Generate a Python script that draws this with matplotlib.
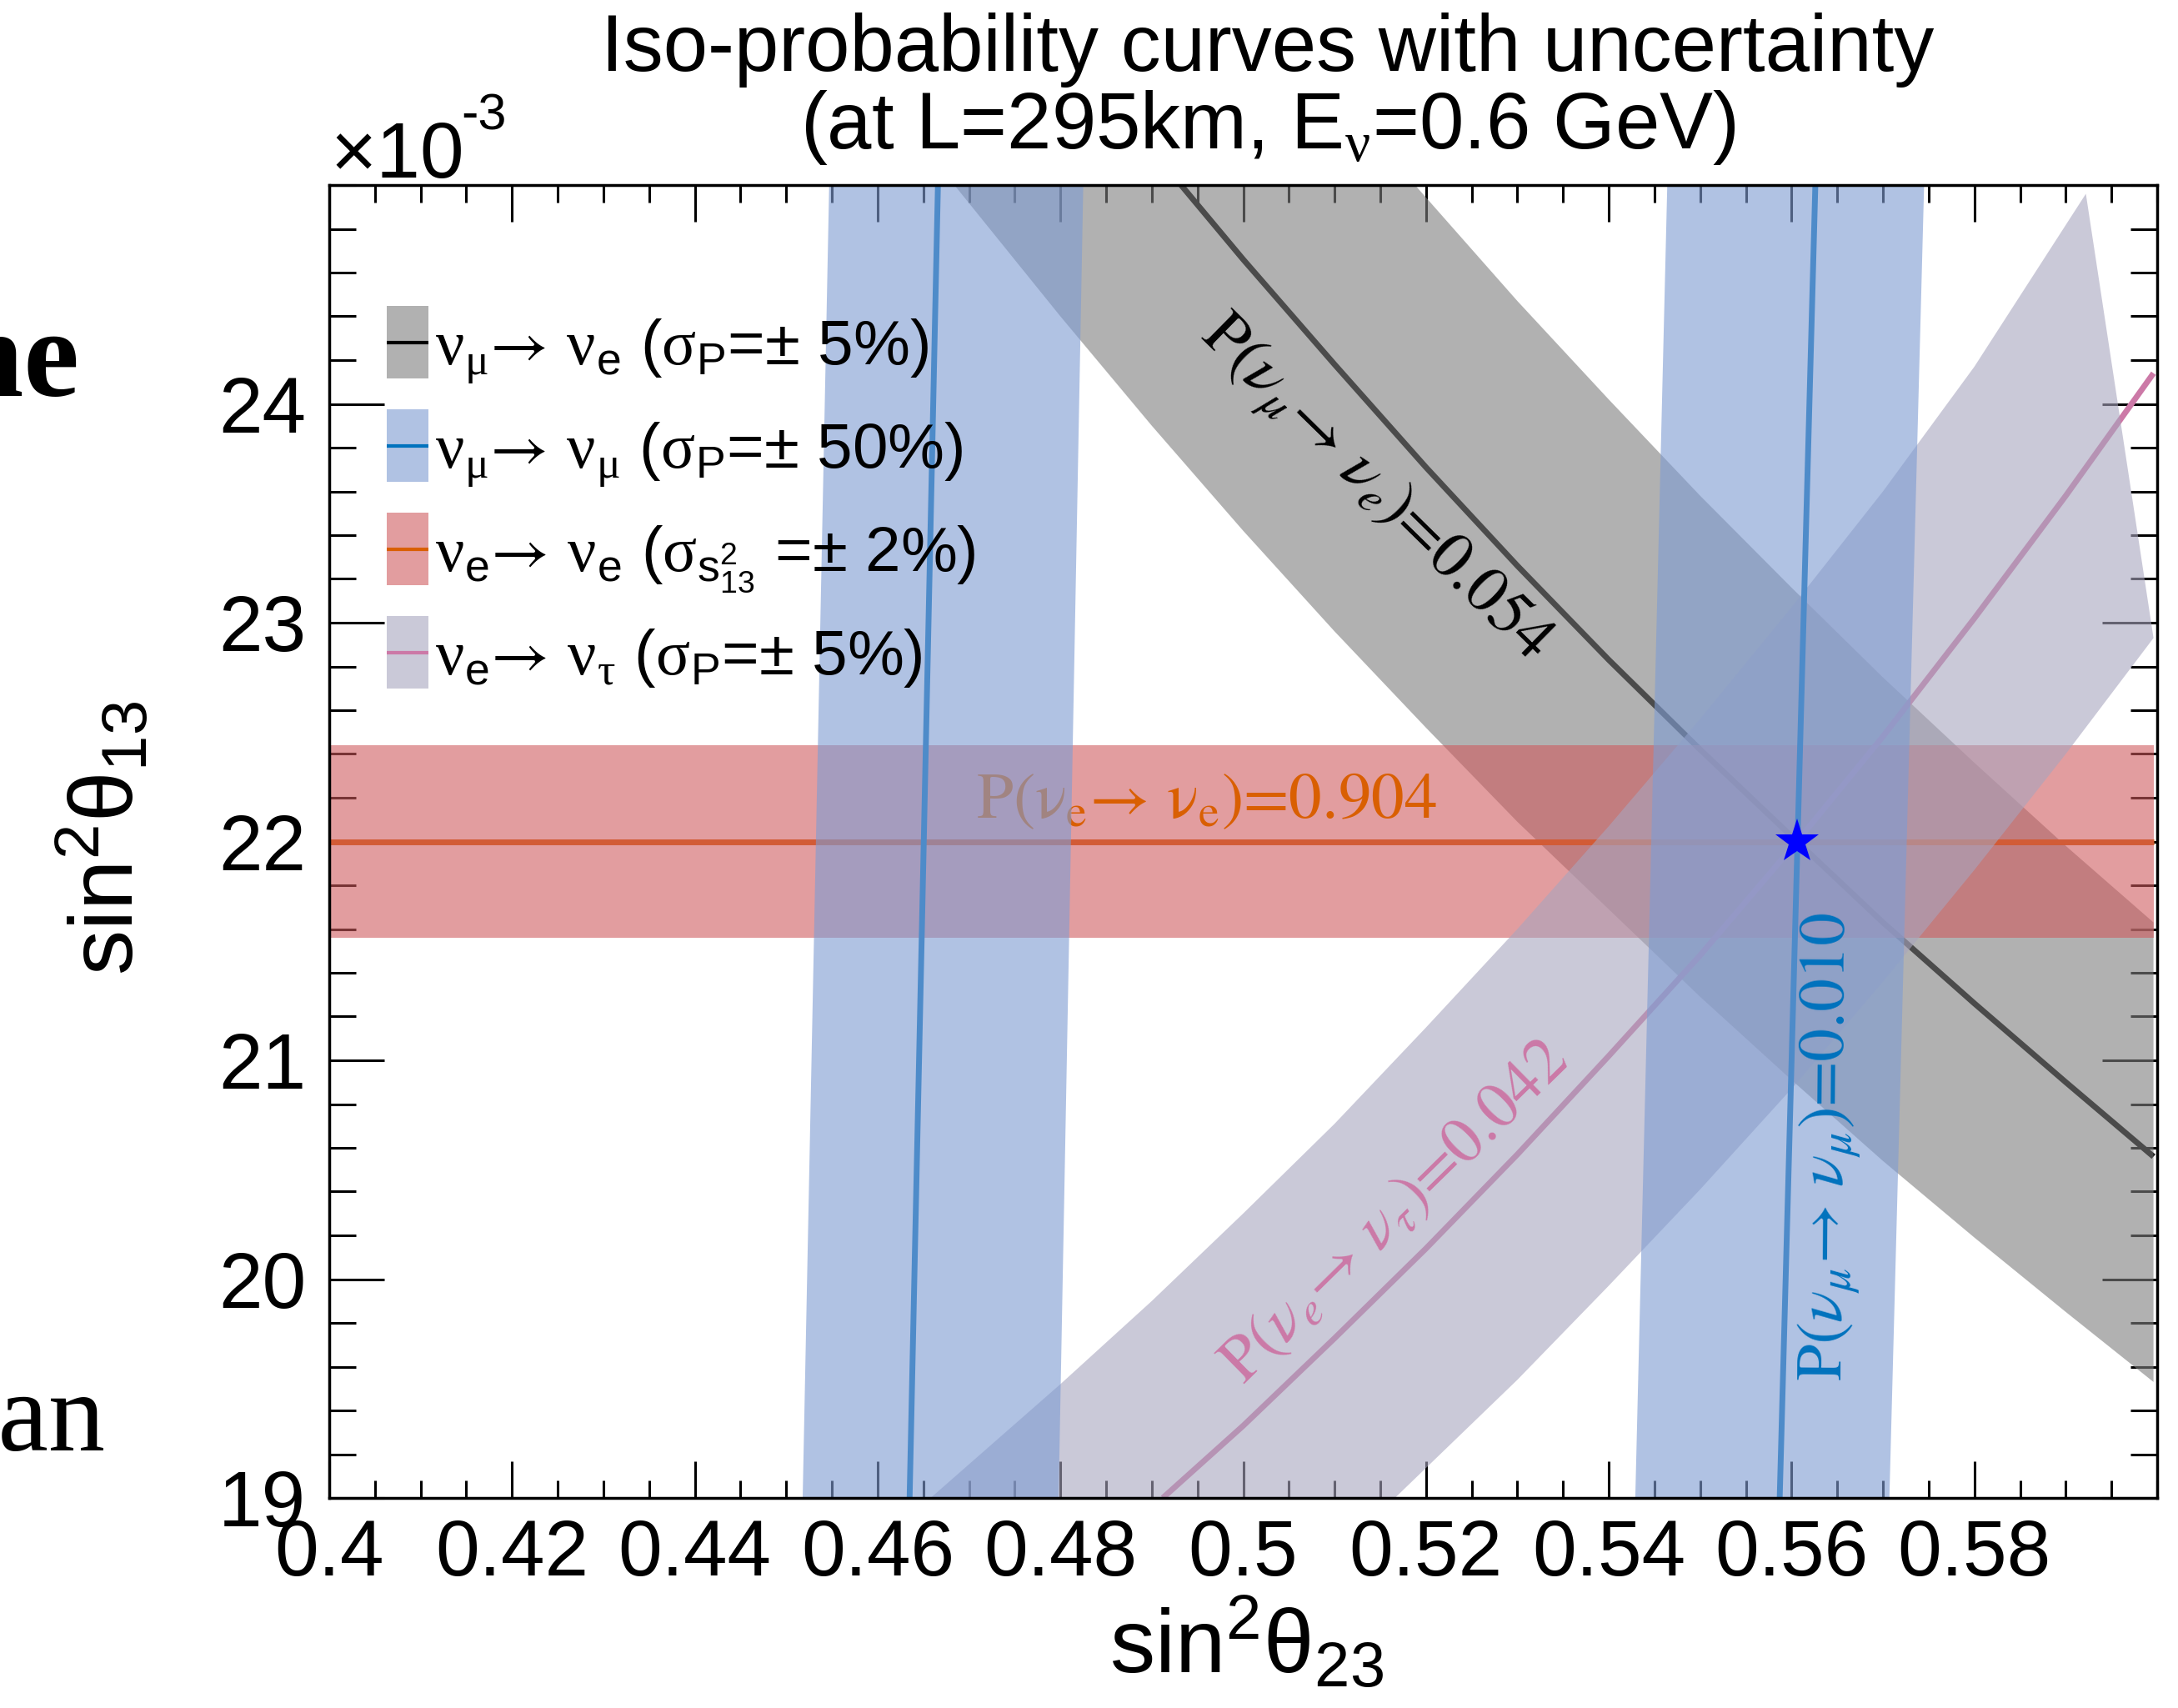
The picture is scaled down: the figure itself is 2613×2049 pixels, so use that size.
import matplotlib
matplotlib.use("Agg")
import matplotlib.pyplot as plt
from matplotlib.patches import Rectangle
from matplotlib.lines import Line2D
from matplotlib.ticker import FixedLocator, MultipleLocator

plt.rcParams.update({
    "font.family": ["Liberation Sans", "DejaVu Sans"],
    "mathtext.fontset": "custom",
    "mathtext.rm": "Liberation Sans",
    "mathtext.it": "Liberation Sans:italic",
    "mathtext.bf": "Liberation Sans:bold",
    "mathtext.sf": "Liberation Serif",
    "mathtext.tt": "STIXGeneral",
})

# ---------------------------------------------------------------------------
# Iso-probability curves in the (sin^2 theta23, sin^2 theta13 [x1e-3]) plane
# ---------------------------------------------------------------------------
# nu_mu -> nu_e : P = 0.054, band +-5 %
mue_x = [0.4932, 0.500, 0.510, 0.520, 0.530, 0.540, 0.550, 0.5606, 0.570, 0.580, 0.590, 0.5996]
mue_y = [25.00, 24.66, 24.18, 23.71, 23.26, 22.83, 22.42, 22.00, 21.63, 21.26, 20.90, 20.56]
mue_lo_x = [0.4684, 0.480, 0.490, 0.500, 0.510, 0.520, 0.530, 0.540, 0.550, 0.560, 0.570, 0.580, 0.590, 0.5996]
mue_lo_y = [25.00, 24.40, 23.90, 23.42, 22.96, 22.52, 22.09, 21.69, 21.29, 20.91, 20.54, 20.19, 19.85, 19.53]
mue_hi_x = [0.5188, 0.530, 0.540, 0.550, 0.560, 0.570, 0.580, 0.590, 0.5996]
mue_hi_y = [25.00, 24.47, 24.02, 23.58, 23.16, 22.75, 22.36, 21.98, 21.63]

# nu_mu -> nu_mu : P = 0.010, band +-50 % (two branches)
mumu1_x, mumu1_y = [0.4635, 0.4666], [19.0, 25.0]
mumu1_lo_x, mumu1_lo_y = [0.4518, 0.4547], [19.0, 25.0]
mumu1_hi_x, mumu1_hi_y = [0.4798, 0.4825], [19.0, 25.0]
mumu2_x, mumu2_y = [0.5587, 0.5626], [19.0, 25.0]
mumu2_lo_x, mumu2_lo_y = [0.5429, 0.5464], [19.0, 25.0]
mumu2_hi_x, mumu2_hi_y = [0.5707, 0.5745], [19.0, 25.0]

# nu_e -> nu_e : P = 0.904, band from +-2 % on sin^2 theta13
ee_x = [0.400, 0.5996]
ee_y = [22.00, 22.00]
ee_lo_y = [21.56, 21.56]
ee_hi_y = [22.44, 22.44]

# nu_e -> nu_tau : P = 0.042, band +-5 %
et_x = [0.4912, 0.500, 0.510, 0.520, 0.530, 0.540, 0.550, 0.5606, 0.570, 0.580, 0.590, 0.5996]
et_y = [19.00, 19.33, 19.73, 20.14, 20.57, 21.02, 21.48, 22.00, 22.48, 23.02, 23.58, 24.14]
et_hi_x = [0.4658, 0.480, 0.490, 0.500, 0.510, 0.520, 0.530, 0.540, 0.550, 0.560, 0.570, 0.580, 0.5922]
et_hi_y = [19.00, 19.52, 19.90, 20.30, 20.71, 21.15, 21.60, 22.07, 22.56, 23.07, 23.60, 24.17, 24.96]
et_lo_x = [0.5166, 0.530, 0.540, 0.550, 0.560, 0.570, 0.580, 0.590, 0.5996]
et_lo_y = [19.00, 19.54, 19.97, 20.41, 20.87, 21.36, 21.87, 22.40, 22.93]

# best-fit point
best_x, best_y = 0.5606, 22.00

# axis ticks
xtick_vals = [0.40, 0.42, 0.44, 0.46, 0.48, 0.50, 0.52, 0.54, 0.56, 0.58]
xtick_labels = ["0.4", "0.42", "0.44", "0.46", "0.48", "0.5", "0.52", "0.54", "0.56", "0.58"]
ytick_vals = [19, 20, 21, 22, 23, 24]
ytick_labels = ["19", "20", "21", "22", "23", "24"]

ARROW = r"$\mathtt{→}$"
legend_labels = [
    r"$\mathsf{\nu}_{\mathsf{\mu}}$" + ARROW + r" $\mathsf{\nu}_{\mathrm{e}}$ ($\mathsf{\sigma}_{\mathrm{P}}$=± 5%)",
    r"$\mathsf{\nu}_{\mathsf{\mu}}$" + ARROW + r" $\mathsf{\nu}_{\mathsf{\mu}}$ ($\mathsf{\sigma}_{\mathrm{P}}$=± 50%)",
    r"$\mathsf{\nu}_{\mathrm{e}}$" + ARROW + r" $\mathsf{\nu}_{\mathrm{e}}$ ($\mathsf{\sigma}_{\mathrm{s^{2}_{13}}}$ =± 2%)",
    r"$\mathsf{\nu}_{\mathrm{e}}$" + ARROW + r" $\mathsf{\nu}_{\mathsf{\tau}}$ ($\mathsf{\sigma}_{\mathrm{P}}$=± 5%)",
]

# colours
GREY_FILL, GREY_A = (126 / 255, 126 / 255, 126 / 255), 0.60
BLUE_FILL, BLUE_A = (127 / 255, 156 / 255, 210 / 255), 0.615
RED_FILL, RED_A = (206 / 255, 89 / 255, 92 / 255), 0.59
LAV_FILL, LAV_A = (168 / 255, 165 / 255, 190 / 255), 0.60
C_MUE = "#000000"
C_MUMU = "#0072bd"
C_EE = "#d95f02"
C_ET = "#cc79a7"

LW = 5.0

# ---------------------------------------------------------------------------
W, H = 2613, 2049
fig = plt.figure(figsize=(W / 100, H / 100), dpi=100)
AX_L, AX_R, AX_T, AX_B = 395, 2588, 222, 1797
ax = fig.add_axes([AX_L / W, 1 - AX_B / H, (AX_R - AX_L) / W, (AX_B - AX_T) / H])
ax.set_xlim(0.40, 0.60)
ax.set_ylim(19.0, 25.0)
ax.set_axisbelow(True)

# nu_mu -> nu_e band (line first, band drawn over it)
ax.plot(mue_x, mue_y, color=C_MUE, lw=LW, zorder=1.0, solid_capstyle="butt")
ax.fill(mue_lo_x + mue_hi_x[::-1], mue_lo_y + mue_hi_y[::-1],
        color=GREY_FILL, alpha=GREY_A, lw=0, zorder=1.1)

# nu_e -> nu_e band
ax.plot(ee_x, ee_y, color=C_EE, lw=LW, zorder=1.2, solid_capstyle="butt")
ax.fill_between(ee_x, ee_lo_y, ee_hi_y, color=RED_FILL, alpha=RED_A, lw=0, zorder=1.3)
ax.text(0.4960, 22.108, r"P(ν$_{\mathrm{e}}$→ ν$_{\mathrm{e}}$)=0.904", color=C_EE,
        fontsize=57, family=["STIXGeneral", "DejaVu Serif"], math_fontfamily="stix",
        ha="center", va="baseline", zorder=1.35)

# nu_e -> nu_tau band
ax.plot(et_x, et_y, color=C_ET, lw=LW, zorder=1.4, solid_capstyle="butt")
ax.fill(et_hi_x + et_lo_x[::-1], et_hi_y + et_lo_y[::-1],
        color=LAV_FILL, alpha=LAV_A, lw=0, zorder=1.5)

# nu_mu -> nu_mu bands
for cx, cy, lx, ly, hx, hy in [
    (mumu1_x, mumu1_y, mumu1_lo_x, mumu1_lo_y, mumu1_hi_x, mumu1_hi_y),
    (mumu2_x, mumu2_y, mumu2_lo_x, mumu2_lo_y, mumu2_hi_x, mumu2_hi_y),
]:
    ax.plot(cx, cy, color=C_MUMU, lw=LW, zorder=1.6, solid_capstyle="butt")
    ax.fill(lx + hx[::-1], ly + hy[::-1], color=BLUE_FILL, alpha=BLUE_A, lw=0, zorder=1.7)

# curve labels
stix = dict(fontsize=57, family=["STIXGeneral", "DejaVu Serif"], math_fontfamily="stix",
            ha="center", va="baseline", rotation_mode="anchor", zorder=2.0)
ax.text(0.5133, 23.563, r"P($\nu_{\mu}$→ $\nu_{e}$)=0.054", color=C_MUE, rotation=-44.5, **stix)
ax.text(0.5657, 20.605, r"P($\nu_{\mu}$→ $\nu_{\mu}$)=0.010", color=C_MUMU, rotation=89.6, **stix)
ax.text(0.5179, 20.251, r"P($\nu_{e}$→ $\nu_{\tau}$)=0.042", color=C_ET, rotation=44.5, **stix)

# best-fit point
ax.plot([best_x], [best_y], marker="*", ms=40, color="#0000ff", mec="#0000ff", mew=0,
        ls="none", zorder=3)

# axes styling
for s in ax.spines.values():
    s.set_linewidth(2.5)
ax.xaxis.set_major_locator(FixedLocator(xtick_vals))
ax.set_xticklabels(xtick_labels)
ax.xaxis.set_minor_locator(MultipleLocator(0.005))
ax.yaxis.set_major_locator(FixedLocator(ytick_vals))
ax.set_yticklabels(ytick_labels)
ax.yaxis.set_minor_locator(MultipleLocator(0.2))
ax.tick_params(axis="x", which="major", direction="in", length=31.7, width=2.2,
               top=True, bottom=True, labelsize=68, pad=17)
ax.tick_params(axis="x", which="minor", direction="in", length=15, width=2.2, top=True, bottom=True)
ax.tick_params(axis="y", which="major", direction="in", length=47.5, width=2.2,
               left=True, right=True, labelsize=68, pad=20)
ax.tick_params(axis="y", which="minor", direction="in", length=23, width=2.2, left=True, right=True)

# legend
def ax_frac(px, py):
    return (px - AX_L) / (AX_R - AX_L), (AX_B - py) / (AX_B - AX_T)

legend_fill = [(GREY_FILL, GREY_A), (BLUE_FILL, BLUE_A), (RED_FILL, RED_A), (LAV_FILL, LAV_A)]
legend_line = [C_MUE, C_MUMU, C_EE, C_ET]
for i, (lab, (fc, fa), lc) in enumerate(zip(legend_labels, legend_fill, legend_line)):
    top = 367 + 124 * i
    x0, y0 = ax_frac(464, top + 87)
    x1, y1 = ax_frac(514, top)
    ax.add_patch(Rectangle((x0, y0), x1 - x0, y1 - y0, transform=ax.transAxes,
                           fc=fc, alpha=fa, lw=0, zorder=4, clip_on=False))
    xc, yc = ax_frac(0, top + 43.5)
    ax.add_line(Line2D([x0, x1], [yc, yc], transform=ax.transAxes, color=lc, lw=3.0,
                       zorder=4.1, solid_capstyle="butt"))
    tx, ty = ax_frac(522, top + 43.5 + 26.5)
    ax.text(tx, ty, lab, transform=ax.transAxes, fontsize=55, ha="left", va="baseline",
            zorder=4.2)

# titles and axis labels
fig.text(1521 / W, 1 - 85 / H, "Iso-probability curves with uncertainty",
         fontsize=69, ha="center", va="baseline")
fig.text(1521 / W, 1 - 178 / H, r"(at L=295km, E$_{\mathsf{\nu}}$=0.6 GeV)",
         fontsize=69, ha="center", va="baseline")
fig.text(396 / W, 1 - 213 / H, "×10", fontsize=68, ha="left", va="baseline")
fig.text(553 / W, 1 - 155 / H, "-3", fontsize=44, ha="left", va="baseline")
fig.text(1495 / W, 1 - 2007 / H, r"sin$^{2}$θ$_{23}$", fontsize=78, ha="center", va="baseline")
fig.text(160 / W, 1 - 1006 / H, r"sin$^{2}$θ$_{13}$", fontsize=78, ha="center", va="baseline",
         rotation=90, rotation_mode="anchor")

# neighbouring page text at the left margin
fig.text(95 / W, 1 - 475 / H, "ne", fontsize=108, family="Liberation Serif", weight="bold",
         ha="right", va="baseline")
fig.text(127 / W, 1 - 1740 / H, "ean", fontsize=98, family="Liberation Serif",
         ha="right", va="baseline")

fig.savefig("out.png", dpi=100)
